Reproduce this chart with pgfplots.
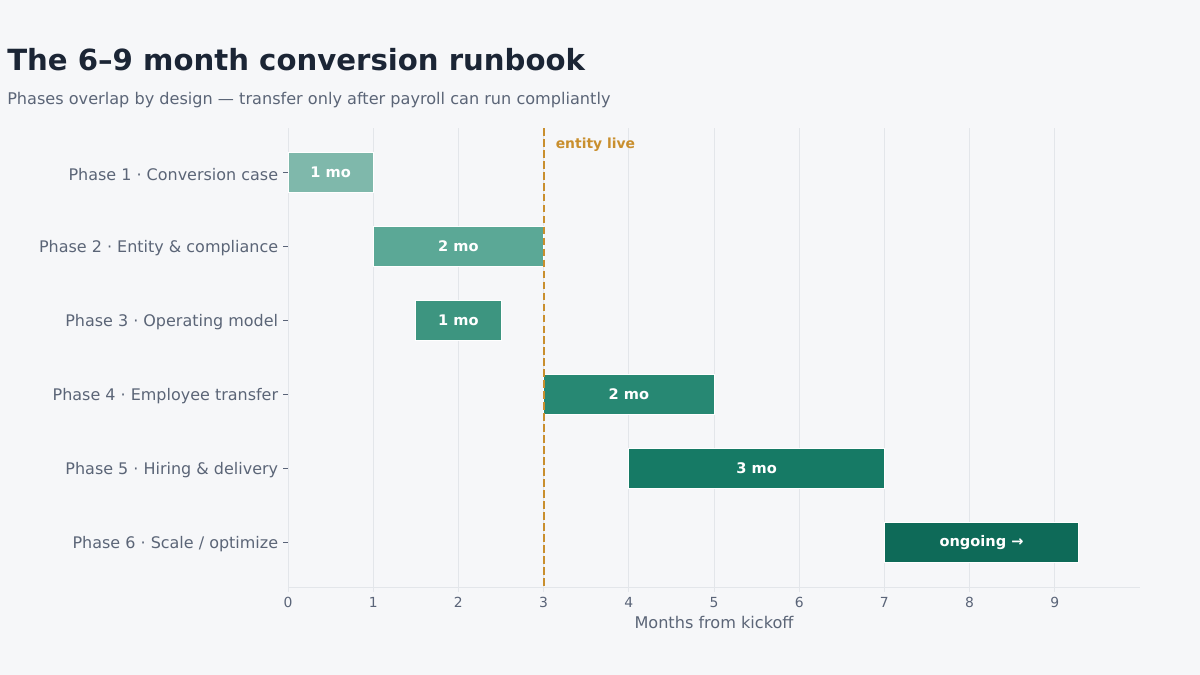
\documentclass[border=0pt]{standalone}
\usepackage{fontspec}
\setmainfont{DejaVu Sans}
\usepackage{pgfplots}
\pgfplotsset{compat=1.18}
\definecolor{bg}{HTML}{F6F7F9}
\definecolor{titlec}{HTML}{1B2535}
\definecolor{subc}{HTML}{5B6577}
\definecolor{gridc}{HTML}{E3E6EA}
\definecolor{tickd}{HTML}{5A6478}
\definecolor{livec}{HTML}{C98F2E}
\definecolor{cA}{HTML}{7FB8AB}
\definecolor{cB}{HTML}{5BA896}
\definecolor{cC}{HTML}{3D9580}
\definecolor{cD}{HTML}{278873}
\definecolor{cE}{HTML}{167A65}
\definecolor{cF}{HTML}{0E6A58}
\begin{document}
\begin{tikzpicture}
\fill[bg] (0,0) rectangle (864pt,486pt);
\useasboundingbox (0,0) rectangle (864pt,486pt);
\node[anchor=base west, inner sep=0, text=titlec, font=\fontsize{21}{24}\selectfont\bfseries] at (5.04pt,435.3pt) {The 6–9 month conversion runbook};
\node[anchor=base west, inner sep=0, text=subc, font=\fontsize{11.6}{14}\selectfont] at (5.04pt,411.1pt) {Phases overlap by design — transfer only after payroll can run compliantly};
\begin{axis}[
  at={(207.36pt,63.36pt)}, anchor=south west,
  scale only axis, width=613.44pt, height=330.48pt,
  xmin=0, xmax=10, ymin=-0.6, ymax=5.6, y dir=reverse,
  xtick={0,...,9}, ytick={0,...,5},
  yticklabels={Phase 1 · Conversion case, Phase 2 · Entity \& compliance, Phase 3 · Operating model, Phase 4 · Employee transfer, Phase 5 · Hiring \& delivery, Phase 6 · Scale / optimize},
  axis x line*=bottom, axis y line*=left,
  x axis line style={draw=gridc, -}, y axis line style={draw=none},
  xmajorgrids, grid style={draw=gridc, line width=0.6pt},
  tick align=outside, major tick length=3.6pt,
  xtick style={draw=gridc, line width=0.6pt},
  ytick style={draw=tickd, line width=0.6pt},
  /pgf/number format/assume math mode=true,
  xticklabel style={text=tickd, font=\fontsize{10}{12}\selectfont},
  yticklabel style={text=subc, font=\fontsize{11.5}{14}\selectfont, yshift=-1.4pt},
  xlabel={Months from kickoff},
  xlabel style={text=subc, font=\fontsize{11.6}{14}\selectfont, yshift=0.3pt},
  clip=false,
]
\addplot[fill=cA, draw=white, line width=0.6pt] coordinates {(0,-0.27) (1,-0.27) (1,0.27) (0,0.27)} --cycle;
\addplot[fill=cB, draw=white, line width=0.6pt] coordinates {(1,0.73) (3,0.73) (3,1.27) (1,1.27)} --cycle;
\addplot[fill=cC, draw=white, line width=0.6pt] coordinates {(1.5,1.73) (2.5,1.73) (2.5,2.27) (1.5,2.27)} --cycle;
\addplot[fill=cD, draw=white, line width=0.6pt] coordinates {(3,2.73) (5,2.73) (5,3.27) (3,3.27)} --cycle;
\addplot[fill=cE, draw=white, line width=0.6pt] coordinates {(4,3.73) (7,3.73) (7,4.27) (4,4.27)} --cycle;
\addplot[fill=cF, draw=white, line width=0.6pt] coordinates {(7,4.73) (9.28,4.73) (9.28,5.27) (7,5.27)} --cycle;
\addplot[livec, line width=1.5pt, dash pattern=on 5.5pt off 2.4pt] coordinates {(3,-0.6) (3,5.6)};
\begin{scope}[every node/.style={text=white, font=\fontsize{10.5}{13}\selectfont\bfseries}]
\node at (axis cs:0.5,0) {1 mo};
\node at (axis cs:2,1) {2 mo};
\node at (axis cs:2,2) {1 mo};
\node at (axis cs:4,3) {2 mo};
\node at (axis cs:5.5,4) {3 mo};
\node at (axis cs:8.14,5) {ongoing →};
\end{scope}
\node[anchor=west, inner sep=0, text=livec, font=\fontsize{10}{12}\selectfont\bfseries] at (axis cs:3,-0.375) [xshift=8.6pt] {entity live};
\end{axis}
\end{tikzpicture}
\end{document}
